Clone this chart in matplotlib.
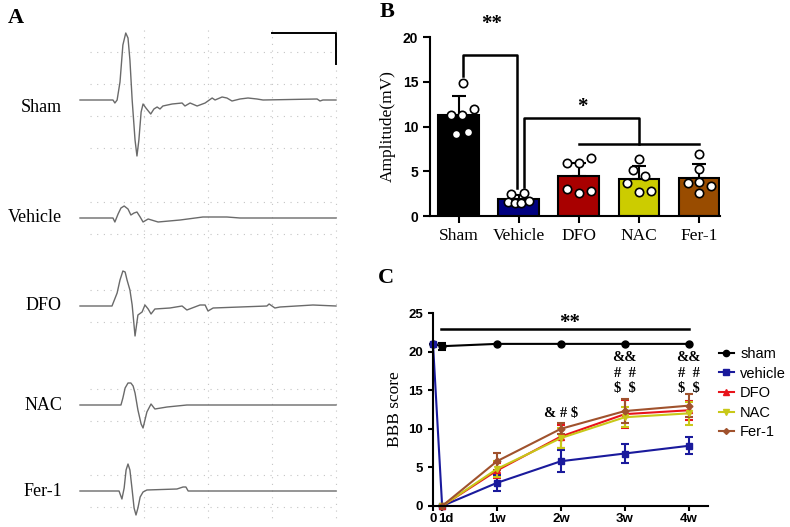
import numpy as np
import matplotlib
matplotlib.use("Agg")
import matplotlib.pyplot as plt
from matplotlib.lines import Line2D

SERIF = "Liberation Serif"
SANS = "Liberation Sans"

# ---------------- panel A: evoked potential traces (time ms, amplitude a.u.)
trace_names = ["Sham", "Vehicle", "DFO", "NAC", "Fer-1"]
sham_t = [0, 1.03, 1.09, 1.16, 1.25, 1.34, 1.43, 1.5, 1.56, 1.63, 1.72, 1.78, 1.84, 1.91, 1.97,
          2.06, 2.21, 2.31, 2.41, 2.5, 2.59, 2.88, 3.19, 3.28, 3.44, 3.66, 3.91, 4.13, 4.22,
          4.44, 4.59, 4.75, 5.0, 5.25, 5.53, 5.72, 7.41, 7.5, 7.59, 8.0]
sham_a = [0, 0, -0.3, 0, 1.8, 5.5, 6.7, 6.2, 4.0, 0, -4.0, -5.6, -4.0, -1.2, -0.4,
          -0.8, -1.4, -0.9, -0.7, -0.9, -0.6, -0.4, -0.3, -0.6, -0.3, -0.6, -0.3, 0.2, 0,
          0.3, 0.2, -0.1, 0.1, 0.2, 0.1, 0, 0.1, -0.1, 0, 0]
vehicle_t = [0, 1.03, 1.09, 1.19, 1.28, 1.38, 1.5, 1.59, 1.69, 1.78, 1.88, 1.97, 2.13, 2.44,
             3.13, 3.84, 4.59, 5.0, 8.0]
vehicle_a = [0, 0, -0.4, 0.4, 1.0, 1.2, 0.9, 0.3, 0.5, 0.6, 0.1, -0.4, -0.1, -0.4,
             -0.2, 0.1, 0.1, 0, 0]
dfo_t = [0, 1.0, 1.16, 1.25, 1.34, 1.41, 1.47, 1.56, 1.63, 1.72, 1.81, 1.94, 2.03, 2.13,
         2.22, 2.34, 2.81, 3.19, 3.34, 3.75, 3.91, 4.0, 4.16, 5.84, 5.91, 6.09, 6.25, 7.28, 8.0]
dfo_a = [0, 0, 1.3, 2.6, 3.5, 3.4, 2.6, 1.6, 0.1, -3.0, -0.9, -0.6, 0.1, -0.3,
         -0.8, -0.3, -0.2, 0, -0.4, 0.1, 0.1, -0.5, -0.2, 0, 0.2, -0.2, -0.1, 0.1, 0]
nac_t = [0, 1.28, 1.34, 1.41, 1.5, 1.59, 1.66, 1.72, 1.81, 1.91, 1.97, 2.03, 2.09, 2.22,
         2.34, 2.72, 3.34, 8.0]
nac_a = [0, 0, 0.7, 1.7, 2.2, 2.2, 1.9, 1.2, -0.5, -1.9, -2.3, -1.5, -0.7, 0.1,
         -0.4, -0.2, 0, 0]
fer_t = [0, 1.22, 1.31, 1.38, 1.44, 1.5, 1.56, 1.63, 1.69, 1.75, 1.81, 1.88, 1.97, 2.09,
         3.03, 3.22, 3.31, 3.38, 8.0]
fer_a = [0, 0, -0.8, 0.3, 2.1, 2.7, 2.1, 0.1, -1.7, -2.4, -1.7, -0.6, -0.1, 0.1,
         0.2, 0.4, 0.4, 0, 0]

# ---------------- panel B: amplitude (mV)
groups = ["Sham", "Vehicle", "DFO", "NAC", "Fer-1"]
amp_mean = [11.3, 1.85, 4.45, 4.1, 4.2]
amp_sd = [2.1, 0.45, 1.45, 1.5, 1.6]
amp_points = [
    [14.9, 11.3, 11.3, 11.9, 9.2, 9.4],
    [2.5, 2.6, 1.6, 1.45, 1.45, 1.7],
    [5.9, 5.9, 6.5, 3.0, 2.6, 2.8],
    [6.4, 5.1, 4.5, 3.7, 2.7, 2.8],
    [6.9, 5.3, 3.7, 3.8, 3.35, 2.6],
]

# ---------------- panel C: BBB score
time_labels = ["0", "1d", "1w", "2w", "3w", "4w"]
time_weeks = [0, 1 / 7, 1, 2, 3, 4]
bbb_sham = [21, 20.7, 21, 21, 21, 21]
bbb_sham_err = [0, 0.45, 0, 0, 0, 0]
bbb_vehicle = [21, 0, 3.0, 5.8, 6.8, 7.8]
bbb_vehicle_err = [0, 0, 1.0, 1.4, 1.2, 1.1]
bbb_dfo = [0, 4.6, 9.0, 11.9, 12.4]
bbb_dfo_err = [0, 1.0, 1.5, 1.8, 1.2]
bbb_nac = [0, 4.8, 8.8, 11.5, 12.0]
bbb_nac_err = [0, 1.0, 1.3, 1.3, 1.5]
bbb_fer = [0, 5.8, 10.0, 12.3, 13.0]
bbb_fer_err = [0, 1.1, 0.7, 1.5, 1.5]

W, H = 790, 527
fig = plt.figure(figsize=(W / 100, H / 100), dpi=100)


def fx(px):
    return px / W


def fy(py):
    return 1 - py / H


# ================= panel A
axA = fig.add_axes([fx(64), fy(525), fx(288), 505 / H])
axA.set_xlim(-0.5, 8.5)
axA.set_ylim(-52.5, -2.0)
axA.axis("off")

baselines = [-10.0, -21.8, -30.6, -40.5, -49.1]
traces = [(sham_t, sham_a), (vehicle_t, vehicle_a), (dfo_t, dfo_a), (nac_t, nac_a), (fer_t, fer_a)]
label_y = [107, 218, 306, 405, 491]

# faint oscilloscope grid
grid_kw = dict(color="#c4c4c4", lw=0.8, ls=(0, (1, 5)), zorder=1)
for gx in [2, 4, 6, 8]:
    axA.plot([gx, gx], [-3.0, -52.0], **grid_kw)
for i, base in enumerate(baselines):
    offs = [-4.8, -1.6, 1.6, 4.8] if i == 0 else [-1.6, 1.6]
    for o in offs:
        axA.plot([0.3, 8.0], [base + o, base + o], **grid_kw)

for (t, a), base in zip(traces, baselines):
    axA.plot(t, np.array(a) + base, color="#6a6a6a", lw=1.0, zorder=3)

for name, ly in zip(trace_names, label_y):
    fig.text(fx(62), fy(ly), name, ha="right", va="center", family=SERIF, fontsize=13)

# scale bar
axA.plot([6.0, 8.0, 8.0], [-3.3, -3.3, -6.4], color="black", lw=1.4, zorder=4)

fig.text(fx(8), fy(18), "A", family=SERIF, fontweight="bold", fontsize=16, va="center")

# ================= panel B
axB = fig.add_axes([fx(430), fy(216), fx(290), 179 / H])
xb = np.arange(len(groups))
bar_colors = ["#000000", "#000080", "#A80000", "#CCCC00", "#994C00"]
axB.bar(xb, amp_mean, width=0.68, color=bar_colors, edgecolor="black", linewidth=1.5, zorder=2)
axB.errorbar(xb, amp_mean, yerr=[np.zeros(len(xb)), amp_sd], fmt="none", ecolor="black",
             elinewidth=1.5, capsize=5, capthick=1.5, zorder=3)
jitter = [
    [0.07, -0.13, 0.06, 0.25, -0.05, 0.15],
    [-0.13, 0.08, -0.18, -0.07, 0.04, 0.17],
    [-0.2, 0.0, 0.2, -0.2, 0.0, 0.2],
    [0.0, -0.1, 0.1, -0.2, 0.0, 0.2],
    [0.0, 0.0, -0.18, 0.0, 0.2, 0.0],
]
for i, pts in enumerate(amp_points):
    axB.plot(xb[i] + np.array(jitter[i]), pts, "o", ms=6, mfc="white", mec="black", mew=1.2,
             ls="none", zorder=4, clip_on=False)

axB.set_xlim(-0.48, 4.35)
axB.set_ylim(0, 20)
axB.set_yticks([0, 5, 10, 15, 20])
axB.set_xticks(xb)
axB.set_xticklabels(groups, family=SERIF, fontsize=12.5)
for lab in axB.get_yticklabels():
    lab.set_family(SANS)
    lab.set_fontweight("bold")
    lab.set_fontsize(10)
axB.tick_params(width=1.5, length=5)
axB.spines["top"].set_visible(False)
axB.spines["right"].set_visible(False)
axB.spines["left"].set_linewidth(1.5)
axB.spines["bottom"].set_linewidth(1.5)
axB.set_ylabel("Amplitude(mV)", family=SERIF, fontsize=12.5, labelpad=5)

# significance brackets
bk = dict(color="black", lw=1.8, clip_on=False, zorder=5)
axB.plot([0.07, 0.07, 0.97, 0.97], [15.6, 18.0, 18.0, 3.1], **bk)
axB.text(0.55, 21.5, "**", ha="center", va="center", family=SERIF, fontsize=15, fontweight="bold")
axB.plot([1.08, 1.08, 3.0, 3.0], [3.2, 11.0, 11.0, 8.0], **bk)
axB.plot([2.0, 4.0], [8.0, 8.0], **bk)
axB.text(2.05, 12.2, "*", ha="center", va="center", family=SERIF, fontsize=15, fontweight="bold")

fig.text(fx(380), fy(12), "B", family=SERIF, fontweight="bold", fontsize=16, va="center")

# ================= panel C
axC = fig.add_axes([fx(433), fy(506), fx(275), 193 / H])
err_kw = dict(lw=1.5, elinewidth=1.5, capsize=3, capthick=1.5, clip_on=False)
tw = np.array(time_weeks)
series = [
    ("sham", tw, bbb_sham, bbb_sham_err, "black", "o", 5),
    ("vehicle", tw, bbb_vehicle, bbb_vehicle_err, "#1a1a9c", "s", 5),
    ("DFO", tw[1:], bbb_dfo, bbb_dfo_err, "#e8141b", "^", 5),
    ("NAC", tw[1:], bbb_nac, bbb_nac_err, "#c8c818", "v", 5),
    ("Fer-1", tw[1:], bbb_fer, bbb_fer_err, "#a0522d", "D", 3.5),
]
handles = []
for name, x, y, e, c, m, ms in series:
    axC.errorbar(x, y, yerr=e, color=c, marker=m, ms=ms, **err_kw)
    handles.append(Line2D([0], [0], color=c, marker=m, ms=ms - 0.5, lw=1.5))

axC.set_xlim(0, 4.3)
axC.set_ylim(0, 25)
axC.set_yticks([0, 5, 10, 15, 20, 25])
axC.set_xticks(tw)
# the first two labels ("0", "1d") sit side by side as "01d"; drawn separately below
axC.set_xticklabels(["", ""] + time_labels[2:])
tick_font = dict(family=SANS, fontweight="bold", fontsize=9.5)
for lab in axC.get_xticklabels() + axC.get_yticklabels():
    lab.set_family(SANS)
    lab.set_fontweight("bold")
    lab.set_fontsize(9.5)
axC.annotate(time_labels[0], xy=(tw[0], 0), xytext=(0, -5), textcoords="offset points",
             ha="center", va="top", annotation_clip=False, **tick_font)
axC.annotate(time_labels[1], xy=(tw[1], 0), xytext=(-3, -5), textcoords="offset points",
             ha="left", va="top", annotation_clip=False, **tick_font)
axC.tick_params(width=1.5, length=3.5)
axC.tick_params(axis="x", pad=1.5)
axC.spines["top"].set_visible(False)
axC.spines["right"].set_visible(False)
axC.spines["left"].set_linewidth(1.5)
axC.spines["bottom"].set_linewidth(1.5)
axC.set_ylabel("BBB score", family=SERIF, fontsize=12.5, labelpad=4)

axC.plot([0.13, 4.0], [22.9, 22.9], color="black", lw=1.8, clip_on=False)
axC.text(2.14, 23.7, "**", ha="center", va="center", family=SERIF, fontsize=15, fontweight="bold")
ann = dict(ha="center", va="center", family=SERIF, fontsize=10.5, fontweight="bold")
axC.text(2.0, 12.0, r"& # \$", **ann)
for xw in [3, 4]:
    axC.text(xw, 19.3, "&&", clip_on=False, **ann)
    axC.text(xw, 17.2, "#  #", clip_on=False, **ann)
    axC.text(xw, 15.2, r"\$  \$", clip_on=False, **ann)

fig.legend(handles, [s[0] for s in series], loc="upper left",
           bbox_to_anchor=(fx(719), fy(347)), frameon=False, borderpad=0, borderaxespad=0,
           handlelength=1.0, handletextpad=0.45, labelspacing=0.38,
           prop={"family": SANS, "size": 10.5})

fig.text(fx(378), fy(278), "C", family=SERIF, fontweight="bold", fontsize=16, va="center")

fig.savefig("out.png", dpi=100)
